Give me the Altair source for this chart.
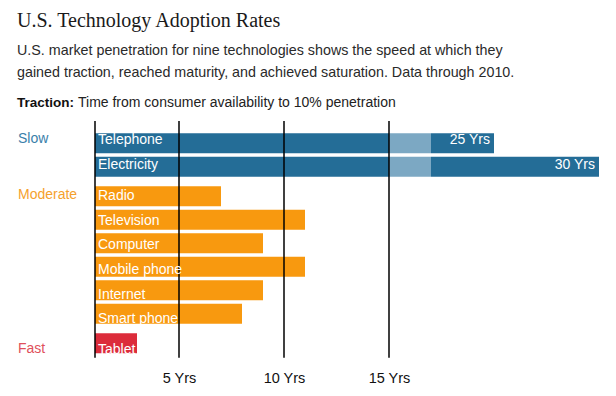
import altair as alt
import pandas as pd

# ---- data ----
technologies = ["Telephone", "Electricity", "Radio", "Television", "Computer",
                "Mobile phone", "Internet", "Smart phone", "Tablet"]
years_to_traction = [25, 30, 7, 11, 9, 11, 9, 8, 3]
speed_group = ["Slow", "Slow", "Moderate", "Moderate", "Moderate",
               "Moderate", "Moderate", "Moderate", "Fast"]
group_names = ["Slow", "Moderate", "Fast"]
tick_years = [5, 10, 15]

# ---- styling ----
bar_colors = {"Slow": "#246d97", "Moderate": "#f8990f", "Fast": "#dc2c3b"}
label_colors = {"Slow": "#3a80aa", "Moderate": "#f5a12d", "Fast": "#e0505b"}
break_color = "#7ca8c3"
SANS = "Liberation Sans"
SERIF = "Liberation Serif"

BAR_START = 1        # bars begin one unit right of the scale origin
BREAK_AT = 15        # axis break for bars longer than 15 years
BREAK_SHOWN = 2      # width of the break band in axis units
BREAK_HIDDEN = 7     # years hidden inside the break band
GROUP_GAP = 0.25     # extra space between speed groups (in rows)


def shown(v):
    return v if v <= BREAK_AT else v - (BREAK_HIDDEN - BREAK_SHOWN)


rows, segs = [], []
prev, gi = None, -1
for i, (t, v, s) in enumerate(zip(technologies, years_to_traction, speed_group)):
    if s != prev:
        gi += 1
        prev = s
    pos = i + GROUP_GAP * gi
    rows.append({"tech": t, "years": v, "group": s, "pos": pos, "start": BAR_START,
                 "end": shown(v), "first": i == speed_group.index(s),
                 "label": f"{v} Yrs" if v > BREAK_AT else ""})
    if v <= BREAK_AT:
        segs.append({"tech": t, "pos": pos, "x0": BAR_START, "x1": v, "c": bar_colors[s]})
    else:
        segs.append({"tech": t, "pos": pos, "x0": BAR_START, "x1": BREAK_AT, "c": bar_colors[s]})
        segs.append({"tech": t, "pos": pos, "x0": BREAK_AT, "x1": BREAK_AT + BREAK_SHOWN, "c": break_color})
        segs.append({"tech": t, "pos": pos, "x0": BREAK_AT + BREAK_SHOWN, "x1": shown(v), "c": bar_colors[s]})

rows_df = pd.DataFrame(rows)
segs_df = pd.DataFrame(segs)
groups_df = rows_df[rows_df["first"]].copy()
groups_df["lc"] = groups_df["group"].map(label_colors)
last_pos = rows_df["pos"].max()
rules_df = pd.DataFrame({"x": [BAR_START] + tick_years, "y0": -0.7, "y1": last_pos + 0.38})

W, H = 600, 350
x_scale = alt.Scale(domain=[0, 25], range=[66, 591], nice=False, zero=False)
y_scale = alt.Scale(domain=[0, 8.5], range=[130.3, 340.25], nice=False, zero=False)
x_axis = alt.Axis(values=tick_years, labelExpr="datum.value + ' Yrs'",
                  grid=False, domain=False, ticks=False, tickSize=0,
                  labelPadding=13, labelFontSize=14.5, labelColor="#111",
                  labelFont=SANS, title=None)

bars = alt.Chart(segs_df).mark_bar(orient="horizontal", size=20).encode(
    x=alt.X("x0:Q", scale=x_scale, axis=x_axis),
    x2="x1:Q",
    y=alt.Y("pos:Q", scale=y_scale, axis=None),
    color=alt.Color("c:N", scale=None),
)

rules = alt.Chart(rules_df).mark_rule(color="#000", strokeWidth=1.5).encode(
    x=alt.X("x:Q", scale=x_scale, axis=x_axis),
    y=alt.Y("y0:Q", scale=y_scale, axis=None),
    y2="y1:Q",
)

names = alt.Chart(rows_df).mark_text(align="left", baseline="middle", dx=3, dy=2,
                                     color="white", fontSize=14, font=SANS).encode(
    x=alt.X("start:Q", scale=x_scale, axis=x_axis),
    y=alt.Y("pos:Q", scale=y_scale, axis=None),
    text="tech:N",
)

yrs = alt.Chart(rows_df).mark_text(align="right", baseline="middle", dx=-4, dy=2,
                                   color="white", fontSize=14, font=SANS).encode(
    x=alt.X("end:Q", scale=x_scale, axis=x_axis),
    y=alt.Y("pos:Q", scale=y_scale, axis=None),
    text="label:N",
)

group_labels = alt.Chart(groups_df).mark_text(align="left", baseline="middle", dy=1,
                                              fontSize=14, font=SANS).encode(
    x=alt.value(10),
    y=alt.Y("pos:Q", scale=y_scale, axis=None),
    text="group:N",
    color=alt.Color("lc:N", scale=None),
)

title_df = pd.DataFrame({"t": ["U.S. Technology Adoption Rates"]})
title = alt.Chart(title_df).mark_text(align="left", baseline="middle", fontSize=20,
                                      font=SERIF, color="#1a1a1a").encode(
    x=alt.value(9), y=alt.value(13), text="t:N")

sub_df = pd.DataFrame({"t": [
    "U.S. market penetration for nine technologies shows the speed at which they",
    "gained traction, reached maturity, and achieved saturation. Data through 2010."],
    "line": [0, 1]})
subtitle = alt.Chart(sub_df).mark_text(align="left", baseline="middle", fontSize=14.3,
                                       font=SANS, color="#2a2a2a").encode(
    x=alt.value(9),
    y=alt.Y("line:Q", scale=alt.Scale(domain=[0, 1], range=[43, 65]), axis=None),
    text="t:N")

tr_b = alt.Chart(pd.DataFrame({"t": ["Traction:"]})).mark_text(
    align="left", baseline="middle", fontSize=13.5, font=SANS, fontWeight="bold",
    color="#111").encode(x=alt.value(9), y=alt.value(95), text="t:N")
tr_r = alt.Chart(pd.DataFrame({"t": ["Time from consumer availability to 10% penetration"]})).mark_text(
    align="left", baseline="middle", fontSize=14, font=SANS, color="#222").encode(
    x=alt.value(70), y=alt.value(95), text="t:N")

chart = alt.layer(bars, rules, names, yrs, group_labels, title, subtitle, tr_b, tr_r).resolve_scale(
    y="independent"
).properties(
    width=W, height=H,
    autosize=alt.AutoSizeParams(type="none"),
    padding={"left": 0, "right": 0, "top": 0, "bottom": 30},
).configure_view(stroke=None)

chart.save("out.html", embed_options={"renderer": "svg", "actions": False})
